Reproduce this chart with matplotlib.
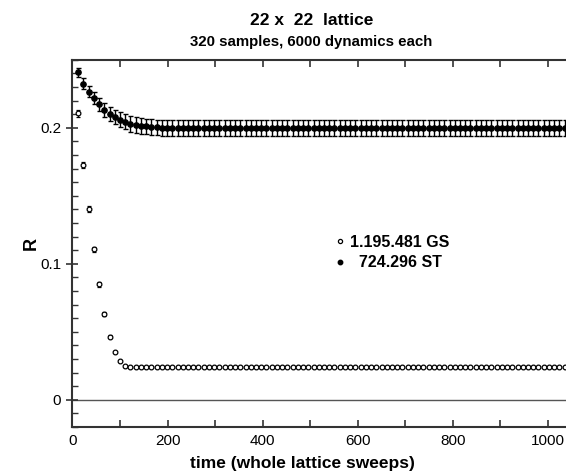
import numpy as np
import matplotlib
matplotlib.use('Agg')
import matplotlib.pyplot as plt
from matplotlib.lines import Line2D
from matplotlib.ticker import MultipleLocator, FixedLocator, FixedFormatter

plt.rcParams['font.family'] = ['Liberation Sans', 'DejaVu Sans']

# sampling times (whole lattice sweeps)
time = np.arange(12, 1040, 11)
n = len(time)

# GS dynamics: ratio R and its error
gs_head = [0.2108, 0.1727, 0.1400, 0.1107, 0.0849, 0.0632, 0.0465, 0.0352, 0.0286, 0.0251]
gs_r = np.array(gs_head + [0.0243] * (n - len(gs_head)))
gs_err_head = [0.0025, 0.0025, 0.0022, 0.0020, 0.0018, 0.0015, 0.0012, 0.0010, 0.0008, 0.0006]
gs_err = np.array(gs_err_head + [0.0005] * (n - len(gs_err_head)))

# ST dynamics: ratio R and its error
st_head = [0.2410, 0.2325, 0.2266, 0.2220, 0.2175, 0.2133, 0.2103, 0.2080, 0.2060,
           0.2044, 0.2030, 0.2020, 0.2015, 0.2010, 0.2006, 0.2003, 0.2001]
st_r = np.array(st_head + [0.2000] * (n - len(st_head)))
st_err_head = [0.0033, 0.0038, 0.0042, 0.0045, 0.0048, 0.0050, 0.0052, 0.0054, 0.0055,
               0.0056, 0.0057, 0.0058, 0.0058, 0.0058, 0.0058, 0.0058, 0.0058]
st_err = np.array(st_err_head + [0.0058] * (n - len(st_err_head)))

gs_label = '1.195.481 GS'
st_label = '  724.296 ST'

fig = plt.figure(figsize=(5.66, 4.75), dpi=100)
ax = fig.add_axes([0.128, 0.101, 0.872, 0.773])

ax.axhline(0, color='#555555', lw=1.0, zorder=1)

ax.errorbar(time, st_r, yerr=st_err, fmt='o', ms=3.8, color='black',
            mfc='black', mec='black', ecolor='black', elinewidth=1.0,
            capsize=1.8, capthick=1.0, zorder=3)
ax.errorbar(time, gs_r, yerr=gs_err, fmt='o', ms=3.4, color='black',
            mfc='white', mec='black', mew=0.9, ecolor='black', elinewidth=0.9,
            capsize=1.3, capthick=0.9, zorder=3)

ax.set_xlim(0, 1038)
ax.set_ylim(-0.02, 0.25)

ax.xaxis.set_major_locator(MultipleLocator(200))
ax.xaxis.set_minor_locator(MultipleLocator(100))
ax.yaxis.set_major_locator(FixedLocator([0, 0.1, 0.2]))
ax.yaxis.set_major_formatter(FixedFormatter(['0', '0.1', '0.2']))
ax.yaxis.set_minor_locator(MultipleLocator(0.01))

ax.tick_params(axis='x', which='both', direction='in', top=True, length=5,
               width=1.2, color='#333333', labelsize=11, pad=5)
ax.tick_params(axis='y', which='major', direction='inout', length=8,
               width=1.2, color='#333333', labelsize=11, pad=4)
ax.tick_params(axis='y', which='minor', direction='in', length=4,
               width=1.0, color='#333333')

for side in ['left', 'bottom', 'top']:
    ax.spines[side].set_linewidth(1.5)
    ax.spines[side].set_color('#333333')
ax.spines['right'].set_visible(False)

ax.set_xlabel('time (whole lattice sweeps)', fontsize=12.5, fontweight='bold')
ax.xaxis.set_label_coords(0.467, -0.078)
ax.set_ylabel('R', fontsize=13, fontweight='bold', labelpad=0)

# legend with bare markers (no error bars)
handles = [
    Line2D([], [], ls='none', marker='o', ms=3.0, mfc='white', mec='black', mew=0.9),
    Line2D([], [], ls='none', marker='o', ms=3.2, mfc='black', mec='black'),
]
ax.legend(handles, [gs_label, st_label], loc='center left',
          bbox_to_anchor=(0.505, 0.475), frameon=False,
          handlelength=0.5, handletextpad=0.4,
          labelspacing=0.35, prop={'weight': 'bold', 'size': 11.5})

fig.text(0.55, 0.957, '22 x  22  lattice', ha='center', va='center',
         fontsize=12.5, fontweight='bold')
fig.text(0.55, 0.911, '320 samples, 6000 dynamics each', ha='center', va='center',
         fontsize=10.8, fontweight='bold')

fig.savefig('out.png', dpi=100)
